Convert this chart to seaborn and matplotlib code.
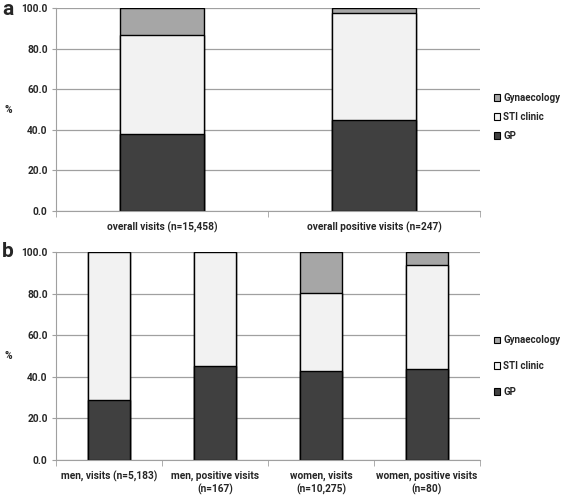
import numpy as np
import pandas as pd
import matplotlib
matplotlib.use("Agg")
import matplotlib.pyplot as plt
import seaborn as sns
from matplotlib.patches import Patch

# Data (percent of visits by setting)
cats_a = ["overall visits (n=15,458)", "overall positive visits (n=247)"]
gp_a = [38.0, 44.6]
sti_a = [48.9, 53.1]
gyn_a = [13.1, 2.3]

cats_b = ["men, visits (n=5,183)", "men, positive visits\n(n=167)",
          "women, visits\n(n=10,275)", "women, positive visits\n(n=80)"]
gp_b = [28.8, 45.4, 42.9, 43.6]
sti_b = [71.2, 54.6, 37.6, 50.2]
gyn_b = [0.0, 0.0, 19.5, 6.2]

colors = {"GP": "#404040", "STI clinic": "#f2f2f2", "Gynaecology": "#a6a6a6"}

sns.set_style("white")
plt.rcParams["font.family"] = ["Roboto", "DejaVu Sans"]
plt.rcParams["font.size"] = 7.3

fig = plt.figure(figsize=(5.67, 4.95), dpi=100)
ax_a = fig.add_axes([56 / 567, 1 - 211 / 495, 424 / 567, 203 / 495])
ax_b = fig.add_axes([56 / 567, 1 - 460 / 495, 424 / 567, 208 / 495])


def stacked(ax, cats, gp, sti, gyn, leg_y, leg_space):
    df = pd.DataFrame({"cat": cats, "GP": gp, "STI clinic": sti, "Gynaecology": gyn})
    # cumulative heights, drawn from the top layer down so lower ones overlap
    df["c_gp"] = df["GP"]
    df["c_sti"] = df["GP"] + df["STI clinic"]
    df["c_gyn"] = df["c_sti"] + df["Gynaecology"]
    for col, name in [("c_gyn", "Gynaecology"), ("c_sti", "STI clinic"), ("c_gp", "GP")]:
        sns.barplot(data=df, x="cat", y=col, color=colors[name], width=0.4,
                    edgecolor="black", linewidth=1.0, saturation=1, ax=ax)
    ax.set_ylim(0, 100)
    ax.set_xlim(-0.5, len(cats) - 0.5)
    ax.set_yticks(np.arange(0, 101, 20))
    ax.set_yticklabels([f"{v:.1f}" for v in np.arange(0, 101, 20)], fontweight="bold")
    ax.yaxis.grid(True, color="#a0a0a0", linewidth=0.9)
    ax.set_axisbelow(True)
    ax.set_xlabel("")
    ax.set_ylabel("%", rotation=0, fontweight="bold", va="center", ha="center")
    ax.yaxis.set_label_coords(-0.113, 0.5)
    for s in ["top", "right"]:
        ax.spines[s].set_visible(False)
    for s in ["left", "bottom"]:
        ax.spines[s].set_color("#a0a0a0")
    ax.tick_params(axis="x", length=0, pad=8)
    ax.tick_params(axis="y", length=3, color="#a0a0a0", left=True, pad=3)
    ax.set_xticks(np.arange(-0.5, len(cats), 1.0), minor=True)
    ax.tick_params(axis="x", which="minor", length=4, color="#a0a0a0", bottom=True)
    for lab in ax.get_xticklabels():
        lab.set_fontweight("bold")
        lab.set_linespacing(1.25)
    handles = [Patch(facecolor=colors[n], edgecolor="black", linewidth=0.8, label=n)
               for n in ["Gynaecology", "STI clinic", "GP"]]
    ax.legend(handles=handles, loc="center left", bbox_to_anchor=(1.0, leg_y),
              frameon=False, handlelength=0.7, handleheight=0.7,
              handletextpad=0.3, labelspacing=leg_space, borderaxespad=1.0,
              prop={"weight": "bold", "size": 7})


stacked(ax_a, cats_a, gp_a, sti_a, gyn_a, 0.463, 0.9)
stacked(ax_b, cats_b, gp_b, sti_b, gyn_b, 0.452, 1.6)

fig.text(2 / 567, 1.0, "a", fontsize=15, fontweight="bold", va="top")
fig.text(2 / 567, 1 - 242 / 495, "b", fontsize=15, fontweight="bold", va="top")

fig.savefig("out.png", dpi=100)
